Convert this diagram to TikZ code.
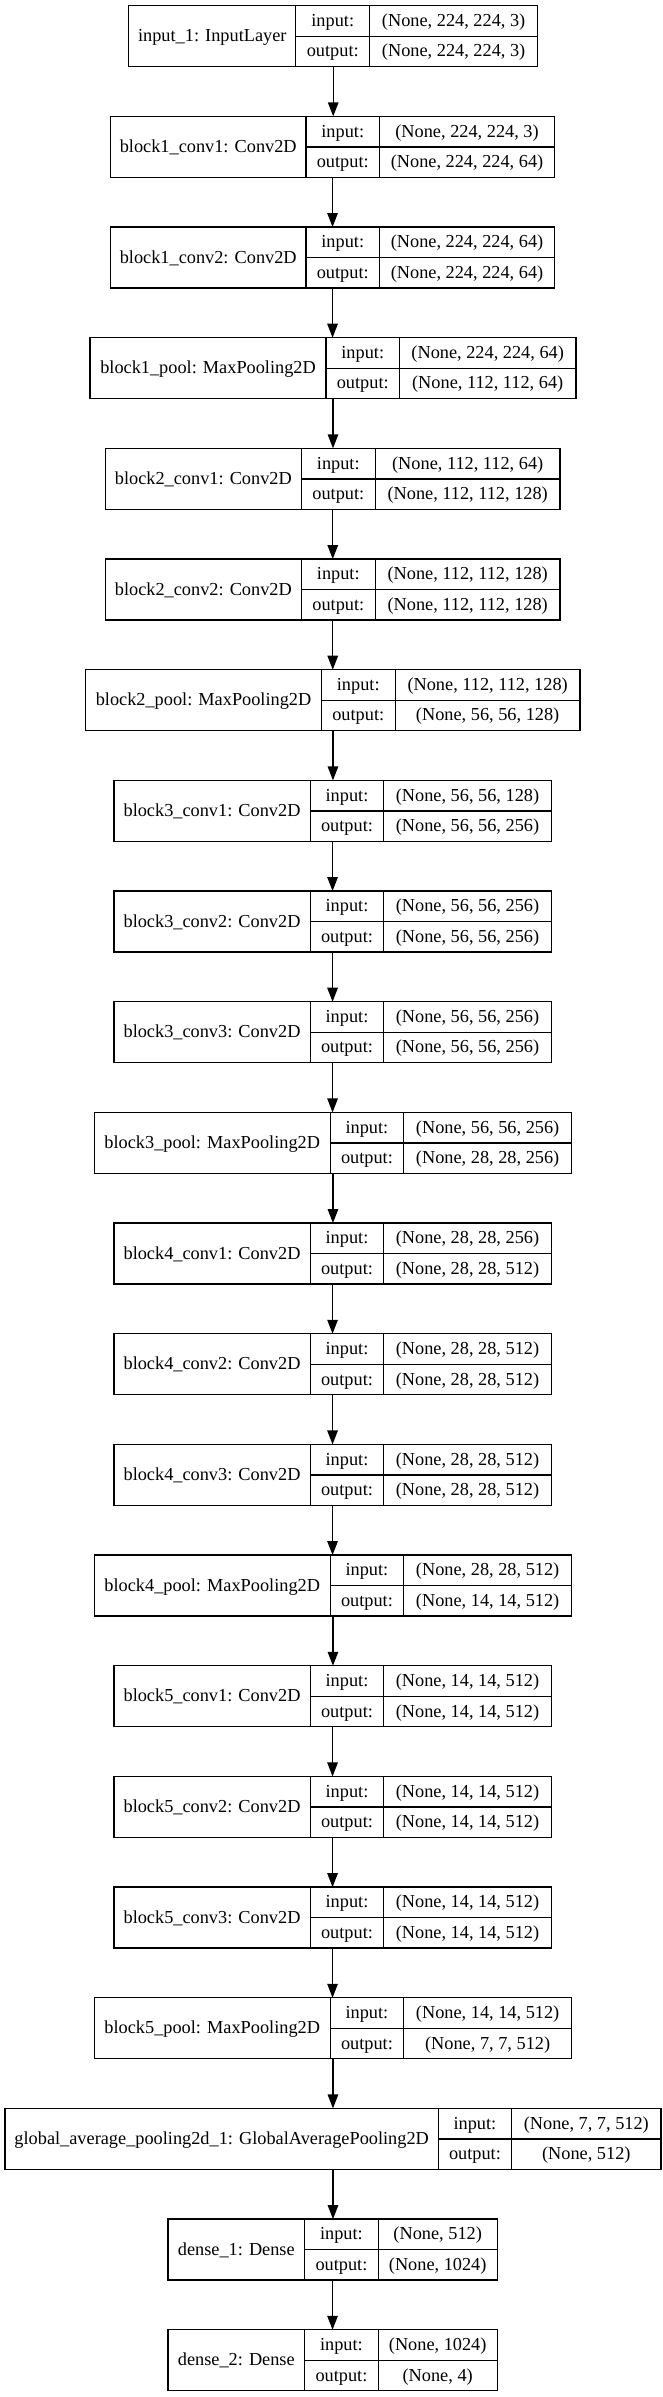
\documentclass[tikz,border=0pt]{standalone}
\usepackage{fontspec}
\setmainfont{Liberation Serif}
\usetikzlibrary{arrows.meta}
\tikzset{
  layerbox/.style={draw=black, line width=1.33pt, rectangle, inner sep=0pt, outer sep=0pt, minimum height=61pt},
  layerline/.style={draw=black, line width=1.33pt},
  txt/.style={inner sep=0pt, text height=14pt, text depth=3pt, anchor=center, font=\fontsize{18.3pt}{22pt}\selectfont, text=black},
  arr/.style={draw=black, line width=1.33pt, -{Triangle[length=14pt,width=10.5pt]}}
}
\newcommand{\nnlayer}[9]{%
  \pgfmathsetmacro\ltop{5.7+110.67*#2}%
  \pgfmathsetmacro\lw{#6-#3}%
  \node[layerbox, minimum width=\lw pt, anchor=north west] (#1) at (#3,\ltop) {};
  \draw[layerline] (#4,\ltop) -- ++(0,61);
  \draw[layerline] (#5,\ltop) -- ++(0,61);
  \draw[layerline] (#4,{\ltop+30.5}) -- (#6,{\ltop+30.5});
  \node[txt] (#1l) at ({(#3+#4)/2},{\ltop+30.5}) {#7};
  \node[txt] (#1i) at ({(#4+#5)/2},{\ltop+15.25}) {input:};
  \node[txt] (#1o) at ({(#4+#5)/2},{\ltop+45.75}) {output:};
  \node[txt] (#1a) at ({(#5+#6)/2},{\ltop+15.25}) {#8};
  \node[txt] (#1b) at ({(#5+#6)/2},{\ltop+45.75}) {#9};
}
\begin{document}
\begin{tikzpicture}[x=1pt, y={(0pt,-1pt)}]
\useasboundingbox (0,0) rectangle (663,2397);
\nnlayer{L0}{0}{128.8}{295.8}{369.7}{537.6}{input\_1: InputLayer}{(None, 224, 224, 3)}{(None, 224, 224, 3)}
\nnlayer{L1}{1}{110.5}{306.0}{379.5}{554.6}{block1\_conv1: Conv2D}{(None, 224, 224, 3)}{(None, 224, 224, 64)}
\nnlayer{L2}{2}{110.5}{306.0}{379.5}{554.6}{block1\_conv2: Conv2D}{(None, 224, 224, 64)}{(None, 224, 224, 64)}
\nnlayer{L3}{3}{90.1}{326.0}{399.5}{575.9}{block1\_pool: MaxPooling2D}{(None, 224, 224, 64)}{(None, 112, 112, 64)}
\nnlayer{L4}{4}{105.4}{301.3}{375.3}{560.1}{block2\_conv1: Conv2D}{(None, 112, 112, 64)}{(None, 112, 112, 128)}
\nnlayer{L5}{5}{105.4}{301.3}{375.3}{560.1}{block2\_conv2: Conv2D}{(None, 112, 112, 128)}{(None, 112, 112, 128)}
\nnlayer{L6}{6}{85.8}{321.3}{395.2}{580.1}{block2\_pool: MaxPooling2D}{(None, 112, 112, 128)}{(None, 56, 56, 128)}
\nnlayer{L7}{7}{113.9}{310.2}{383.8}{551.2}{block3\_conv1: Conv2D}{(None, 56, 56, 128)}{(None, 56, 56, 256)}
\nnlayer{L8}{8}{113.9}{310.2}{383.8}{551.2}{block3\_conv2: Conv2D}{(None, 56, 56, 256)}{(None, 56, 56, 256)}
\nnlayer{L9}{9}{113.9}{310.2}{383.8}{551.2}{block3\_conv3: Conv2D}{(None, 56, 56, 256)}{(None, 56, 56, 256)}
\nnlayer{L10}{10}{94.3}{330.2}{403.7}{571.6}{block3\_pool: MaxPooling2D}{(None, 56, 56, 256)}{(None, 28, 28, 256)}
\nnlayer{L11}{11}{113.9}{310.2}{383.8}{551.2}{block4\_conv1: Conv2D}{(None, 28, 28, 256)}{(None, 28, 28, 512)}
\nnlayer{L12}{12}{113.9}{310.2}{383.8}{551.2}{block4\_conv2: Conv2D}{(None, 28, 28, 512)}{(None, 28, 28, 512)}
\nnlayer{L13}{13}{113.9}{310.2}{383.8}{551.2}{block4\_conv3: Conv2D}{(None, 28, 28, 512)}{(None, 28, 28, 512)}
\nnlayer{L14}{14}{94.3}{330.2}{403.7}{571.6}{block4\_pool: MaxPooling2D}{(None, 28, 28, 512)}{(None, 14, 14, 512)}
\nnlayer{L15}{15}{113.9}{310.2}{383.8}{551.2}{block5\_conv1: Conv2D}{(None, 14, 14, 512)}{(None, 14, 14, 512)}
\nnlayer{L16}{16}{113.9}{310.2}{383.8}{551.2}{block5\_conv2: Conv2D}{(None, 14, 14, 512)}{(None, 14, 14, 512)}
\nnlayer{L17}{17}{113.9}{310.2}{383.8}{551.2}{block5\_conv3: Conv2D}{(None, 14, 14, 512)}{(None, 14, 14, 512)}
\nnlayer{L18}{18}{94.3}{330.2}{403.7}{571.6}{block5\_pool: MaxPooling2D}{(None, 14, 14, 512)}{(None, 7, 7, 512)}
\nnlayer{L19}{19}{5.1}{438.2}{511.7}{660.9}{global\_average\_pooling2d\_1: GlobalAveragePooling2D}{(None, 7, 7, 512)}{(None, 512)}
\nnlayer{L20}{20}{167.9}{304.7}{378.2}{497.2}{dense\_1: Dense}{(None, 512)}{(None, 1024)}
\nnlayer{L21}{21}{167.9}{304.7}{378.2}{497.2}{dense\_2: Dense}{(None, 1024)}{(None, 4)}
\foreach \a [evaluate=\a as \b using int(\a+1)] in {0,...,20} {
  \draw[arr] (L\a.south) -- (L\a.south |- L\b.north);
}
\end{tikzpicture}
\end{document}
